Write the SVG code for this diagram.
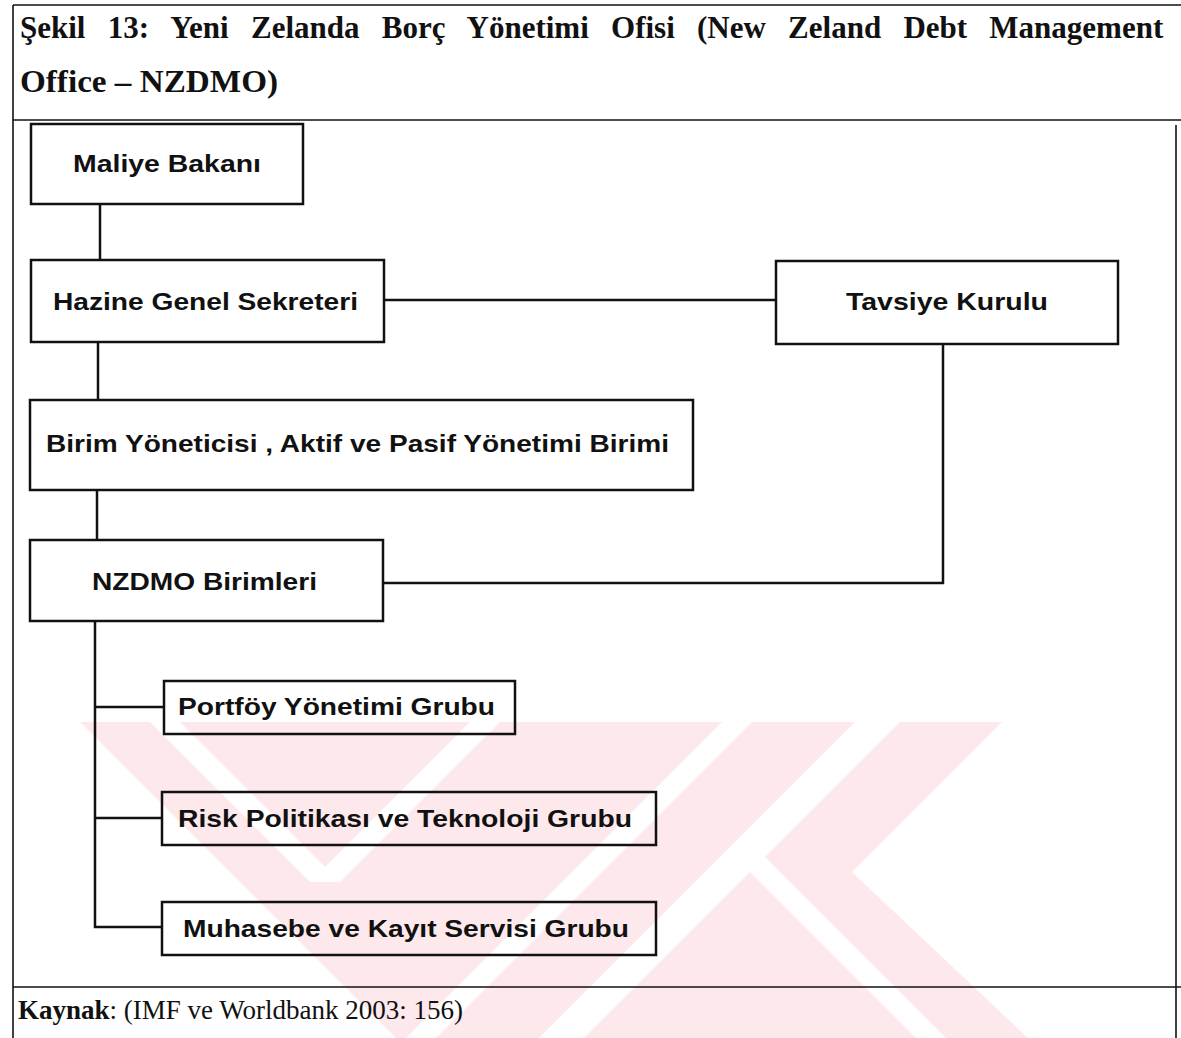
<svg xmlns="http://www.w3.org/2000/svg" width="1181" height="1038" viewBox="0 0 1181 1038">
<style>
.frame{stroke:#111;stroke-width:1.6;fill:none}
.box{stroke:#111;stroke-width:2.5;fill:none}
.con{stroke:#111;stroke-width:2.5;fill:none}
.lbl{font-family:"Liberation Sans",Arial,Helvetica,sans-serif;font-weight:bold;font-size:24px;fill:#111;text-anchor:middle}
.title{font-family:"Liberation Serif","Times New Roman",serif;font-weight:bold;font-size:31px;fill:#111}
.src{font-family:"Liberation Serif","Times New Roman",serif;font-size:27px;fill:#111}
.wm{fill:#fde8ec}
.wg{fill:#ffffff}
</style>
<rect width="1181" height="1038" fill="#ffffff"/>
<g id="watermark">
<clipPath id="wclip"><rect x="0" y="722" width="1181" height="316"/></clipPath>
<g clip-path="url(#wclip)">
<polygon class="wm" points="80,722 1002,722 852,872 1028,1038 396,1038"/>
<polygon class="wg" points="150,722 180,722 340,882 310,882"/>
<polygon class="wg" points="470,722 500,722 340,882 310,882"/>
<polygon class="wg" points="722,722 752,722 436,1038 406,1038"/>
<polygon class="wg" points="855,722 900,722 584,1038 539,1038"/>
<polygon class="wg" points="735,857 765,857 946,1038 916,1038"/>
</g>
</g>
<g id="frame">
<line class="frame" x1="13" y1="5" x2="1181" y2="5"/>
<line class="frame" x1="13" y1="5" x2="13" y2="1038"/>
<line class="frame" x1="13" y1="120" x2="1181" y2="120"/>
<line class="frame" x1="1176" y1="125" x2="1176" y2="1038"/>
<line class="frame" x1="13" y1="987" x2="1181" y2="987"/>
</g>
<g id="title">
<text class="title" x="20" y="38" word-spacing="14.5">Şekil 13: Yeni Zelanda Borç Yönetimi Ofisi (New Zeland Debt Management</text>
<text class="title" x="20" y="92" textLength="258" lengthAdjust="spacingAndGlyphs">Office – NZDMO)</text>
</g>
<g id="connectors">
<line class="con" x1="100" y1="204" x2="100" y2="260"/>
<line class="con" x1="98" y1="342" x2="98" y2="400"/>
<line class="con" x1="97" y1="490" x2="97" y2="540"/>
<line class="con" x1="384" y1="300" x2="776" y2="300"/>
<path class="con" d="M383,583 H943 V344"/>
<path class="con" d="M95,621 V927 H162"/>
<line class="con" x1="95" y1="707" x2="164" y2="707"/>
<line class="con" x1="95" y1="818" x2="162" y2="818"/>
</g>
<g id="node-maliye">
<rect class="box" x="31" y="124" width="272" height="80"/>
<text class="lbl" x="167" y="172" textLength="188" lengthAdjust="spacingAndGlyphs">Maliye Bakanı</text>
</g>
<g id="node-hazine">
<rect class="box" x="31" y="260" width="353" height="82"/>
<text class="lbl" x="205.5" y="310" textLength="305" lengthAdjust="spacingAndGlyphs">Hazine Genel Sekreteri</text>
</g>
<g id="node-tavsiye">
<rect class="box" x="776" y="261" width="342" height="83"/>
<text class="lbl" x="947" y="310" textLength="202" lengthAdjust="spacingAndGlyphs">Tavsiye Kurulu</text>
</g>
<g id="node-birim">
<rect class="box" x="30" y="400" width="663" height="90"/>
<text class="lbl" x="357.5" y="452" textLength="623" lengthAdjust="spacingAndGlyphs">Birim Yöneticisi , Aktif ve Pasif Yönetimi Birimi</text>
</g>
<g id="node-nzdmo">
<rect class="box" x="30" y="540" width="353" height="81"/>
<text class="lbl" x="204.5" y="590" textLength="225" lengthAdjust="spacingAndGlyphs">NZDMO Birimleri</text>
</g>
<g id="node-portfoy">
<rect class="box" x="164" y="681" width="351" height="53"/>
<text class="lbl" x="336.5" y="715" textLength="317" lengthAdjust="spacingAndGlyphs">Portföy Yönetimi Grubu</text>
</g>
<g id="node-risk">
<rect class="box" x="162" y="792" width="494" height="53"/>
<text class="lbl" x="405" y="827" textLength="454" lengthAdjust="spacingAndGlyphs">Risk Politikası ve Teknoloji Grubu</text>
</g>
<g id="node-muhasebe">
<rect class="box" x="162" y="902" width="494" height="53"/>
<text class="lbl" x="406" y="937" textLength="446" lengthAdjust="spacingAndGlyphs">Muhasebe ve Kayıt Servisi Grubu</text>
</g>
<g id="source">
<text class="src" x="18" y="1019"><tspan font-weight="bold">Kaynak</tspan>: (IMF ve Worldbank 2003: 156)</text>
</g>
</svg>
